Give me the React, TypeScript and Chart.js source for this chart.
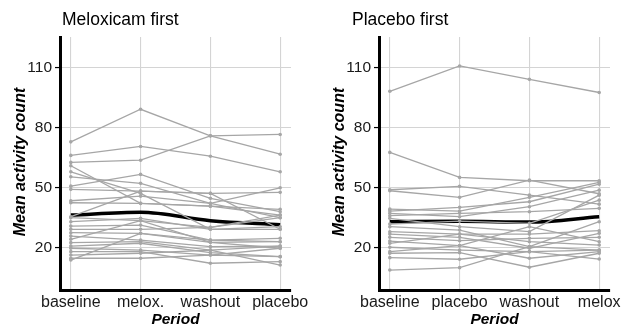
import React, { useEffect, useRef } from "react";
import { Chart, registerables } from "chart.js";

Chart.register(...registerables);

const meloxFirstCategories = ["baseline", "melox.", "washout", "placebo"];
const placeboFirstCategories = ["baseline", "placebo", "washout", "melox"];
const yTickValues = [20, 50, 80, 110];

// each row: one subject, values per period
const meloxFirstSubjects: number[][] = [
  [73, 89.3, 76, 66.8],
  [66.2, 70.7, 65.8, 58],
  [62.7, 63.8, 76, 76.7],
  [61, 42.2, 40.8, 36.3],
  [58, 47.2, 29.2, 30.5],
  [55.5, 52.2, 42.2, 35],
  [50.8, 56.7, 44.7, 38],
  [49.2, 48.3, 47.2, 29.2],
  [43.5, 45.8, 42.2, 50],
  [42.5, 42.2, 40.8, 39.2],
  [35.5, 48.3, 47.2, 47.7],
  [35, 33.5, 30.2, 36.3],
  [33, 34.7, 29.2, 29.2],
  [30.8, 31.3, 23.8, 24.7],
  [29.2, 29.2, 30.2, 35],
  [27.5, 27.2, 22.7, 23],
  [25.8, 23.8, 20.5, 20.8],
  [24.2, 33.5, 22.7, 19.7],
  [22.5, 23, 18.8, 20.8],
  [20.8, 22.2, 17.5, 15.5],
  [19.7, 18.8, 16.3, 19.7],
  [18, 18, 12.2, 13],
  [16.3, 17.2, 18.8, 11.3],
  [14.7, 14.7, 16.3, 15.5],
  [13.8, 27.2, 23.8, 23],
];
const meloxFirstMean = [36.3, 37.7, 33.5, 31.5];

const placeboFirstSubjects: number[][] = [
  [98.3, 111, 104.3, 97.7],
  [67.7, 55.2, 53.5, 53.5],
  [49, 50.7, 46.3, 41.8],
  [48.5, 45.2, 53.8, 47],
  [39.3, 38.3, 45.2, 52.7],
  [38.3, 40.2, 43, 51.8],
  [37.2, 35.5, 40.5, 48.8],
  [36, 37.2, 38, 39.7],
  [34.7, 30.5, 28, 46.3],
  [31.8, 33.3, 32.2, 43.8],
  [30.5, 28.8, 20.5, 33],
  [28, 26.8, 26.8, 28.5],
  [26.8, 25.2, 19.7, 27.2],
  [25.2, 23.5, 24.7, 25.2],
  [23.3, 21, 30.5, 23],
  [22.2, 26.8, 23, 21.3],
  [20.2, 18.8, 18, 18.8],
  [18, 21, 14.7, 18],
  [17.2, 17.5, 10.2, 17.2],
  [15, 14.2, 18, 14.3],
  [8.8, 10, 20.5, 18.8],
];
const placeboFirstMean = [33, 33.2, 32.8, 35.5];

const FONT = "'Liberation Sans', Arial, sans-serif";
const GREY = "#a6a6a6";
const GRID = "#d4d4d4";

type PanelProps = {
  title: string;
  titleX: number;
  cats: string[];
  subjects: number[][];
  mean: number[];
  axisLeft: number;
  padRight: number;
};

function Panel({ title, titleX, cats, subjects, mean, axisLeft, padRight }: PanelProps) {
  const ref = useRef<HTMLCanvasElement>(null);
  useEffect(() => {
    if (!ref.current) return;
    const datasets: any[] = subjects.map((s) => ({
      data: s.map((y, i) => ({ x: i, y })),
      borderColor: GREY,
      backgroundColor: GREY,
      borderWidth: 1.3,
      pointRadius: 1.8,
      pointBorderWidth: 0,
      pointBackgroundColor: GREY,
      tension: 0,
    }));
    datasets.push({
      data: mean.map((y, i) => ({ x: i, y })),
      borderColor: "#000",
      backgroundColor: "#000",
      borderWidth: 3.5,
      pointRadius: 0,
      cubicInterpolationMode: "monotone",
    });
    const textPlugin = {
      id: "panelTexts",
      afterDraw(chart: any) {
        const { ctx, chartArea } = chart;
        ctx.save();
        ctx.fillStyle = "#000";
        ctx.textBaseline = "middle";
        ctx.textAlign = "left";
        ctx.font = `17.5px ${FONT}`;
        ctx.fillText(title, titleX, 20);
        ctx.textAlign = "center";
        ctx.font = `italic bold 15.5px ${FONT}`;
        ctx.fillText("Period", (chartArea.left + chartArea.right) / 2, 320);
        ctx.translate(chartArea.left - 39, 162);
        ctx.rotate(-Math.PI / 2);
        ctx.font = `italic bold 16px ${FONT}`;
        ctx.fillText("Mean activity count", 0, 0);
        ctx.restore();
      },
    };
    const chart = new Chart(ref.current, {
      type: "line",
      data: { datasets },
      options: {
        animation: false,
        responsive: false,
        maintainAspectRatio: false,
        layout: { padding: { top: 37, right: padRight, bottom: 0, left: 0 } },
        plugins: {
          legend: { display: false },
          tooltip: { enabled: false },
          title: { display: false },
        },
        scales: {
          x: {
            type: "linear",
            min: -0.155,
            max: 3.155,
            afterBuildTicks: (s: any) => {
              s.ticks = cats.map((_, i) => ({ value: i }));
            },
            afterFit: (s: any) => {
              s.height = 41;
            },
            ticks: {
              callback: (v: any) => cats[v] ?? "",
              color: "#1a1a1a",
              font: { family: FONT, size: 16 },
              padding: 3,
              maxRotation: 0,
              autoSkip: false,
            },
            grid: { color: GRID, lineWidth: 1.1, drawTicks: false },
            border: { display: true, color: "#000", width: 3 },
          },
          y: {
            type: "linear",
            min: -1.2,
            max: 125.5,
            afterBuildTicks: (s: any) => {
              s.ticks = yTickValues.map((v) => ({ value: v }));
            },
            afterFit: (s: any) => {
              s.width = axisLeft;
            },
            ticks: {
              color: "#1a1a1a",
              font: { family: FONT, size: 15.5 },
              padding: 3,
            },
            grid: {
              color: GRID,
              lineWidth: 1.1,
              tickColor: "#000",
              tickLength: 5,
              tickWidth: 1.2,
            },
            border: { display: true, color: "#000", width: 3 },
          },
        },
      } as any,
      plugins: [textPlugin],
    });
    return () => chart.destroy();
  }, []);
  return (
    <canvas
      ref={ref}
      width={312}
      height={331}
      style={{ width: 312, height: 331, display: "block" }}
    />
  );
}

export default function App() {
  return (
    <div
      style={{
        position: "fixed",
        left: 0,
        top: 0,
        width: 624,
        height: 331,
        background: "#fff",
        display: "flex",
      }}
    >
      <Panel
        title="Meloxicam first"
        titleX={62}
        cats={meloxFirstCategories}
        subjects={meloxFirstSubjects}
        mean={meloxFirstMean}
        axisLeft={60}
        padRight={17}
      />
      <Panel
        title="Placebo first"
        titleX={40}
        cats={placeboFirstCategories}
        subjects={placeboFirstSubjects}
        mean={placeboFirstMean}
        axisLeft={67}
        padRight={10}
      />
    </div>
  );
}
